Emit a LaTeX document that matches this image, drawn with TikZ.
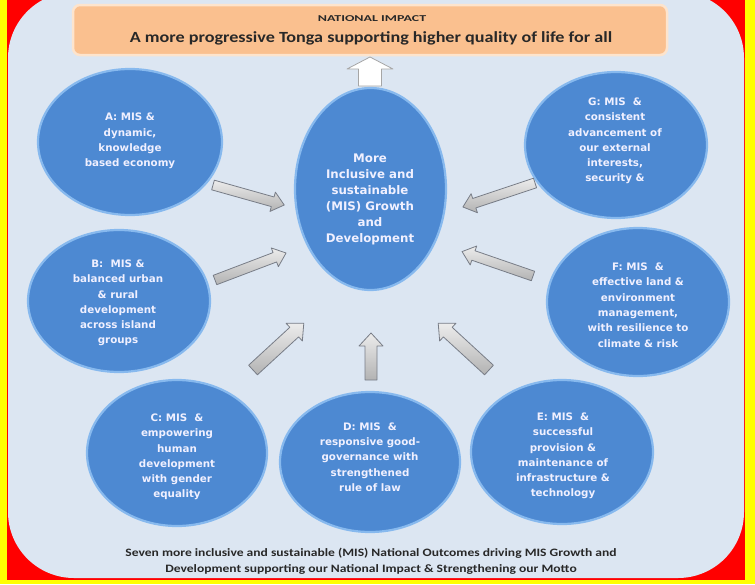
\documentclass[tikz,border=0pt]{standalone}
\usepackage{fontspec}
\setmainfont{Carlito}
\newfontfamily\ellfont{DejaVu Sans}
\usetikzlibrary{shapes.geometric}
\definecolor{panel}{RGB}{220,230,242}
\definecolor{peach}{RGB}{250,192,143}
\definecolor{peachrim}{RGB}{253,228,205}
\definecolor{ellblue}{RGB}{77,137,210}
\definecolor{ellrim}{RGB}{135,185,238}
\definecolor{redbg}{RGB}{255,0,0}
\definecolor{yell}{RGB}{255,255,0}
\definecolor{arrline}{RGB}{120,125,135}
\definecolor{darktext}{RGB}{40,40,40}
% block arrow: #1 tail, #2 angle, #3 length, #4 shaft half width, #5 head half width, #6 head length, #7 style
\newcommand\barr[7]{%
  \begin{scope}[shift={(#1)}, rotate=#2]
    \draw[#7] (0,-#4) -- ({#3-#6},-#4) -- ({#3-#6},-#5) -- (#3,0) -- ({#3-#6},#5) -- ({#3-#6},#4) -- (0,#4) -- cycle;
  \end{scope}}
\begin{document}
\begin{tikzpicture}[x=1pt,y=-1pt,
  outcome/.style={ellipse, fill=ellblue, draw=ellrim, line width=2.2pt, inner sep=0pt},
  outtext/.style={text=white!94!blue, align=center, inner sep=0pt, font=\ellfont\bfseries\fontsize{10.3}{15.3}\selectfont},
  centertext/.style={text=white!94!blue, align=center, inner sep=0pt, font=\ellfont\bfseries\fontsize{11.8}{16}\selectfont},
  grayarrow/.style={draw=arrline, line width=0.8pt, top color=gray!15, bottom color=gray!60, line join=round},
  whitearrow/.style={draw=gray!70, line width=0.8pt, fill=white, line join=round}]
\useasboundingbox (0,0) rectangle (755,584);
\fill[yell] (0,0) rectangle (755,584);
\fill[redbg] (7,0) rectangle (745,580);
\fill[panel, rounded corners=66pt] (8,-8) rectangle (744,578);
% banner
\node[draw=peachrim, line width=2.5pt, fill=peach, rounded corners=7pt, minimum width=594pt, minimum height=50pt, inner sep=0pt] (banner) at (370,30) {};
\node[font=\bfseries\fontsize{9}{10}\selectfont, text=darktext, inner sep=0pt] (nattitle) at (372,19) {\scalebox{1.55}[1]{NATIONAL IMPACT}};
\node[font=\bfseries\fontsize{15.5}{17}\selectfont, text=darktext, inner sep=0pt] (natimpact) at (371,38) {\scalebox{1.17}[1]{A more progressive Tonga supporting higher quality of life for all}};
% ellipses
\node[outcome, minimum width=151pt, minimum height=202pt] (centre) at (370.5,189) {};
\node[outcome, minimum width=184pt, minimum height=146pt] (A) at (130,142) {};
\node[outcome, minimum width=182pt, minimum height=146pt] (G) at (616,145) {};
\node[outcome, minimum width=182pt, minimum height=142pt] (B) at (119,301) {};
\node[outcome, minimum width=182pt, minimum height=148pt] (F) at (638,302) {};
\node[outcome, minimum width=180pt, minimum height=146pt] (C) at (177,453) {};
\node[outcome, minimum width=180pt, minimum height=140pt] (D) at (370,462) {};
\node[outcome, minimum width=182pt, minimum height=144pt] (E) at (562,452) {};
% texts
\node[centertext] (centreT) at (370,199) {More\\Inclusive and\\sustainable\\(MIS) Growth\\and\\Development};
\node[outtext] (AT) at (130,141) {A: MIS \&\\dynamic,\\knowledge\\based economy};
\node[outtext] (GT) at (615,141) {G: MIS \ \&\\consistent\\advancement of\\our external\\interests,\\security \&};
\node[outtext] (BT) at (118,303) {B: \ MIS \&\\balanced urban\\\& rural\\development\\across island\\groups};
\node[outtext] (FT) at (638,305) {F: MIS \ \&\\effective land \&\\environment\\management,\\with resilience to\\climate \& risk};
\node[outtext] (CT) at (177,457) {C: MIS \ \&\\empowering\\human\\development\\with gender\\equality};
\node[outtext] (DT) at (370,457) {D: MIS \ \&\\responsive good-\\governance with\\strengthened\\rule of law};
\node[outtext] (ET) at (563,456) {E: MIS \ \&\\successful\\provision \&\\maintenance of\\infrastructure \&\\technology};
% arrow tails
\coordinate (tA) at (213,185);
\coordinate (tB) at (215,280);
\coordinate (tC) at (253,370);
\coordinate (tD) at (371,380);
\coordinate (tE) at (489,370);
\coordinate (tF) at (533,276);
\coordinate (tG) at (535,183);
\coordinate (tUp) at (370,86);
\barr{tA}{-15.7}{74}{5}{10}{12}{grayarrow}
\barr{tB}{20.8}{76}{5}{10}{12}{grayarrow}
\barr{tC}{42.6}{69}{6.5}{12}{13}{grayarrow}
\barr{tD}{90}{47}{6}{12}{13}{grayarrow}
\barr{tE}{137.4}{69}{6.5}{12}{13}{grayarrow}
\barr{tF}{161}{75}{5}{10}{12}{grayarrow}
\barr{tG}{198.4}{76}{5}{10}{12}{grayarrow}
\barr{tUp}{90}{29}{11.5}{23}{12}{whitearrow}
% caption
\node[font=\bfseries\fontsize{11.3}{16}\selectfont, text=darktext, align=center, inner sep=0pt] (caption) at (371,561) {\scalebox{1.2}[1]{Seven more inclusive and sustainable (MIS) National Outcomes driving MIS Growth and}\\\scalebox{1.2}[1]{Development supporting our National Impact \& Strengthening our Motto}};
\end{tikzpicture}
\end{document}
